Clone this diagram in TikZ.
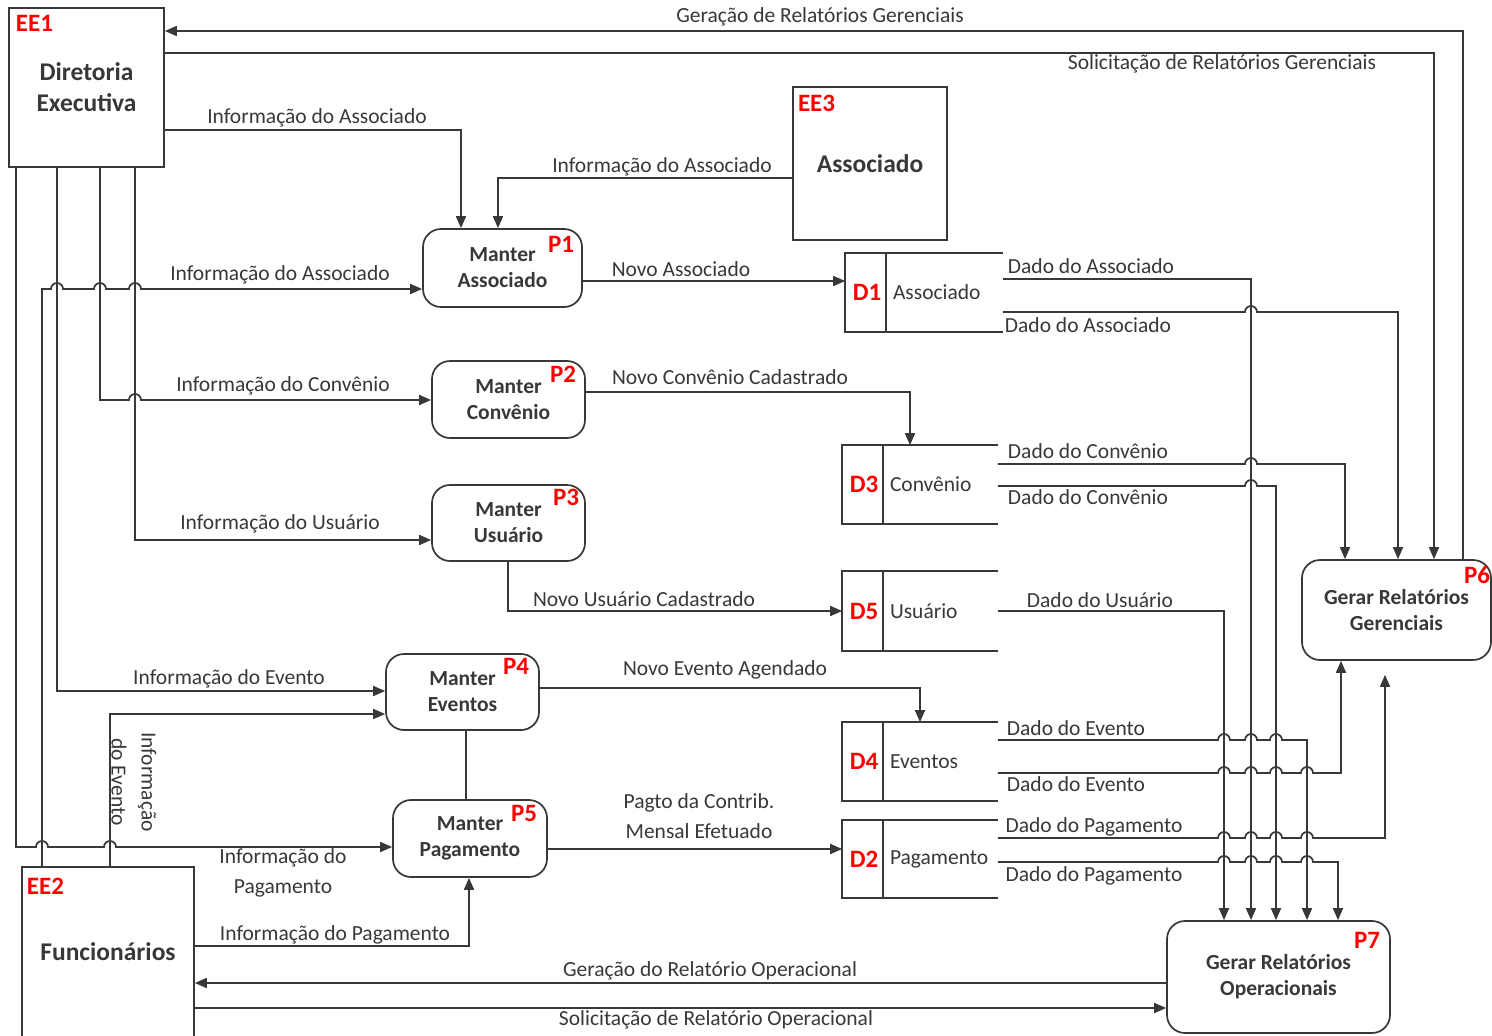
\documentclass[tikz,border=0pt]{standalone}
\usepackage{fontspec}
\setmainfont{Carlito}
\usetikzlibrary{arrows.meta,positioning}

\begin{document}
\begin{tikzpicture}[x=1pt,y=-1pt,->,>={Triangle[length=12pt,width=10pt]},
  line width=1.7pt,color=black!78,
  flow label/.style={inner sep=0pt,align=center,font=\fontsize{21.5}{30}\selectfont},
  ext node/.style={draw,rectangle,inner sep=0pt,align=center,
  font=\bfseries\fontsize{25.5}{31}\selectfont},
  proc node/.style={draw,rounded corners=18pt,inner sep=0pt,align=center,
  font=\bfseries\fontsize{21.5}{26}\selectfont},
  store node/.style={inner sep=0pt,minimum width=154pt,minimum height=77pt},
  store text/.style={inner sep=0pt,font=\fontsize{21.5}{26}\selectfont},
  tag node/.style={text=red,inner sep=0pt,font=\bfseries\fontsize{25}{30}\selectfont}]

  \useasboundingbox (0,0) rectangle (1492,1036);

  % entidades externas
  \node[ext node,minimum width=155pt,minimum height=159pt] (ee1) at (86.5,87.5) {Diretoria\\Executiva};
  \node[ext node,minimum width=154pt,minimum height=153pt] (ee3) at (870,163.5) {Associado};
  \node[ext node,minimum width=172pt,minimum height=170pt] (ee2) at (108,952) {Funcionários};

  \node[tag node,below right=7pt and 7pt of ee1.north west] (ee1-tag) {EE1};
  \node[tag node,below right=8pt and 5pt of ee3.north west] (ee3-tag) {EE3};
  \node[tag node,below right=11pt and 5pt of ee2.north west] (ee2-tag) {EE2};

  % processos
  \node[proc node,minimum width=159pt,minimum height=78pt] (p1) at (502.5,268) {Manter\\Associado};
  \node[proc node,minimum width=153pt,minimum height=77pt] (p2) at (508.5,399.5) {Manter\\Convênio};
  \node[proc node,minimum width=153pt,minimum height=76pt] (p3) at (508.5,523) {Manter\\Usuário};
  \node[proc node,minimum width=153pt,minimum height=76pt] (p4) at (462.5,692) {Manter\\Eventos};
  \node[proc node,minimum width=154pt,minimum height=77pt] (p5) at (470,838.5) {Manter\\Pagamento};
  \node[proc node,minimum width=189pt,minimum height=100pt] (p6) at (1396.5,610) {Gerar Relatórios\\Gerenciais};
  \node[proc node,minimum width=223pt,minimum height=112pt] (p7) at (1278.5,977) {Gerar Relatórios\\Operacionais};

  \node[tag node,below left=7pt and 8pt of p1.north east] (p1-tag) {P1};
  \node[tag node,below left=5pt and 9pt of p2.north east] (p2-tag) {P2};
  \node[tag node,below left=4pt and 6pt of p3.north east] (p3-tag) {P3};
  \node[tag node,below left=4pt and 10pt of p4.north east] (p4-tag) {P4};
  \node[tag node,below left=5pt and 10pt of p5.north east] (p5-tag) {P5};
  \node[tag node,below left=6pt and 1pt of p6.north east] (p6-tag) {P6};
  \node[tag node,below left=11pt and 10pt of p7.north east] (p7-tag) {P7};

  % depositos de dados
  \node[store node,minimum width=156pt] (d1) at (924,292.5) {};
  \node[store node] (d3) at (920,484.5) {};
  \node[store node,minimum height=78pt] (d5) at (920,611) {};
  \node[store node] (d4) at (920,761.5) {};
  \node[store node,minimum height=76pt] (d2) at (920,859) {};

  \foreach \s/\t/\n in {d1/D1/Associado,d3/D3/Convênio,d5/D5/Usuário,d4/D4/Eventos,d2/D2/Pagamento}{
    \draw[-] (\s.north east) -- (\s.north west) -- (\s.south west) -- (\s.south east);
    \draw[-] ([xshift=41pt]\s.north west) -- ([xshift=41pt]\s.south west);
    \node[tag node] (\s-tag) at ([xshift=22pt]\s.west) {\t};
    \node[store text,anchor=west] (\s-name) at ([xshift=47pt]\s.west) {\n};
  }

  % fluxos da diretoria
  \draw (p6.north -| 1463,0) |- (ee1.east |- 0,31);
  \draw (ee1.east |- 0,53) -| (p6.north -| 1434,0);
  \draw (ee1.east |- 0,130) -| (p1.north -| 461,0);
  \draw (ee3.west |- 0,178) -| (p1.north -| 498,0);
  \draw (ee2.north -| 42,0) -- (42,289)
    \foreach \x in {57,100,135}{-- ({\x-6},289) arc[start angle=180,end angle=360,radius=6]}
    -- (p1.west |- 0,289);
  \draw (ee1.south -| 100,0) -- (100,400) -- (129,400) arc[start angle=180,end angle=360,radius=6]
    -- (p2.west |- 0,400);
  \draw (ee1.south -| 135,0) |- (p3.west |- 0,540);
  \draw (ee1.south -| 57,0) |- (p4.west |- 0,691);
  \draw (ee2.north -| 110,0) |- (p4.west |- 0,714);
  \draw (ee1.south -| 16,0) -- (16,847)
    \foreach \x in {42,110}{-- ({\x-6},847) arc[start angle=180,end angle=360,radius=6]}
    -- (p5.west |- 0,847);

  % fluxos dos funcionarios
  \draw (ee2.east |- 0,946) -| (p5.south -| 469,0);
  \draw (p7.west |- 0,983) -- (ee2.east |- 0,983);
  \draw (ee2.east |- 0,1008) -- (p7.west |- 0,1008);

  % processos para depositos
  \draw (p1.east |- 0,281) -- (d1.west |- 0,281);
  \draw (p2.east |- 0,392) -| (d3.north -| 910,0);
  \draw (p3.south -| 508,0) |- (d5.west |- 0,611);
  \draw (p4.east |- 0,688) -| (d4.north -| 920,0);
  \draw[-] (p4.south -| 466,0) -- (p5.north -| 466,0);
  \draw (p5.east |- 0,849) -- (d2.west |- 0,849);

  % depositos para relatorios
  \draw (d1.east |- 0,279) -| (p7.north -| 1251,0);
  \draw (d1.east |- 0,312) -- (1245,312) arc[start angle=180,end angle=360,radius=6]
    -- (1398,312) -- (p6.north -| 1398,0);
  \draw (d3.east |- 0,464) -- (1245,464) arc[start angle=180,end angle=360,radius=6]
    -- (1345,464) -- (p6.north -| 1345,0);
  \draw (d3.east |- 0,486) -- (1245,486) arc[start angle=180,end angle=360,radius=6]
    -- (1276,486) -- (p7.north -| 1276,0);
  \draw (d5.east |- 0,611) -| (p7.north -| 1224,0);
  \draw (d4.east |- 0,740)
    \foreach \x in {1224,1251,1276}{-- ({\x-6},740) arc[start angle=180,end angle=360,radius=6]}
    -- (1307,740) -- (p7.north -| 1307,0);
  \draw (d4.east |- 0,773)
    \foreach \x in {1224,1251,1276,1307}{-- ({\x-6},773) arc[start angle=180,end angle=360,radius=6]}
    -- (1341,773) -- (p6.south -| 1341,0);
  \draw[shorten >=14pt] (d2.east |- 0,838)
    \foreach \x in {1224,1251,1276,1307}{-- ({\x-6},838) arc[start angle=180,end angle=360,radius=6]}
    -- (1385,838) -- (p6.south -| 1385,0);
  \draw (d2.east |- 0,862)
    \foreach \x in {1224,1251,1276,1307}{-- ({\x-6},862) arc[start angle=180,end angle=360,radius=6]}
    -- (1338,862) -- (p7.north -| 1338,0);

  % rotulos
  \node[flow label] (l-ger) at (820,17) {Geração de Relatórios Gerenciais};
  \node[flow label] (l-sol) at (1222,64) {Solicitação de Relatórios Gerenciais};
  \node[flow label] (l-ass1) at (317,118) {Informação do Associado};
  \node[flow label] (l-ass2) at (662,167) {Informação do Associado};
  \node[flow label] (l-ass3) at (280,275) {Informação do Associado};
  \node[flow label] (l-conv) at (283,386) {Informação do Convênio};
  \node[flow label] (l-usu) at (280,524) {Informação do Usuário};
  \node[flow label] (l-evt1) at (229,679) {Informação do Evento};
  \node[flow label,rotate=-90] (l-evt2) at (134,782) {Informação\\do Evento};
  \node[flow label] (l-pag1) at (283,873) {Informação do\\Pagamento};
  \node[flow label] (l-pag2) at (335,935) {Informação do Pagamento};
  \node[flow label] (l-gop) at (710,971) {Geração do Relatório Operacional};
  \node[flow label] (l-sop) at (716,1020) {Solicitação de Relatório Operacional};
  \node[flow label] (l-nass) at (681,269) {Novo Associado};
  \node[flow label] (l-nconv) at (730,377) {Novo Convênio Cadastrado};
  \node[flow label] (l-nusu) at (644,599) {Novo Usuário Cadastrado};
  \node[flow label] (l-nevt) at (725,670) {Novo Evento Agendado};
  \node[flow label] (l-npag) at (699,816) {Pagto da Contrib.\\Mensal Efetuado};
  \node[flow label] (l-d1a) at (1091,266) {Dado do Associado};
  \node[flow label] (l-d1b) at (1088,325) {Dado do Associado};
  \node[flow label] (l-d3a) at (1088,451) {Dado do Convênio};
  \node[flow label] (l-d3b) at (1088,497) {Dado do Convênio};
  \node[flow label] (l-d5) at (1100,600) {Dado do Usuário};
  \node[flow label] (l-d4a) at (1076,728) {Dado do Evento};
  \node[flow label] (l-d4b) at (1076,784) {Dado do Evento};
  \node[flow label] (l-d2a) at (1094,827) {Dado do Pagamento};
  \node[flow label] (l-d2b) at (1094,876) {Dado do Pagamento};

\end{tikzpicture}
\end{document}
